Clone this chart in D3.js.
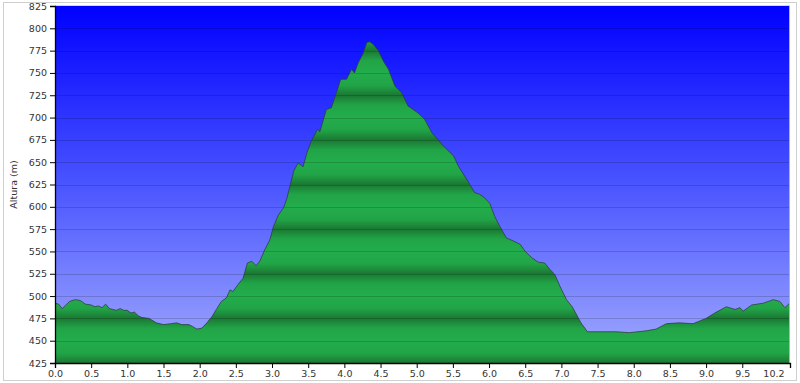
<!DOCTYPE html>
<html>
<head>
<meta charset="utf-8">
<script src="https://cdn.jsdelivr.net/npm/d3@7"></script>
<style>
    body { margin: 0; background: #ffffff; }
    svg { display: block; font-family: "DejaVu Sans", Verdana, sans-serif; }
</style>
</head>
<body>
<svg id="profile" width="800" height="383"></svg>
<script>
// distance (km) / altitude (m) read from the track profile
const distances = [
    0.00, 0.05, 0.10, 0.15, 0.20, 0.28, 0.35, 0.42, 0.50, 0.55, 0.60, 0.65, 0.70, 0.75,
    0.80, 0.85, 0.90, 0.95, 1.00, 1.05, 1.10, 1.15, 1.20, 1.30, 1.40, 1.50, 1.60, 1.68,
    1.75, 1.85, 1.90, 1.96, 2.03, 2.10, 2.17, 2.23, 2.30, 2.37, 2.42, 2.46, 2.53, 2.60,
    2.66, 2.72, 2.78, 2.83, 2.90, 2.97, 3.02, 3.09, 3.16, 3.20, 3.26, 3.30, 3.36, 3.43,
    3.48, 3.54, 3.63, 3.66, 3.69, 3.75, 3.82, 3.89, 3.95, 4.03, 4.10, 4.14, 4.19, 4.26,
    4.31, 4.35, 4.40, 4.47, 4.54, 4.61, 4.70, 4.79, 4.88, 5.02, 5.11, 5.21, 5.37, 5.51,
    5.58, 5.72, 5.80, 5.87, 5.94, 6.01, 6.08, 6.15, 6.24, 6.33, 6.43, 6.50, 6.59, 6.68,
    6.77, 6.84, 6.91, 6.98, 7.07, 7.15, 7.27, 7.36, 7.52, 7.75, 7.94, 8.17, 8.31, 8.45,
    8.63, 8.82, 9.00, 9.12, 9.28, 9.40, 9.47, 9.51, 9.63, 9.79, 9.93, 10.02, 10.09, 10.14,
    10.16
];
const altitudes = [
    492, 491, 486, 490, 494, 496, 495, 491, 490, 488, 489, 487, 491, 486,
    485, 484, 486, 484, 484, 481, 482, 478, 476, 475, 470, 468, 469, 470,
    468, 468, 466, 463, 464, 470, 477, 485, 494, 498, 507, 505, 513, 520,
    537, 539, 534, 539, 552, 563, 578, 591, 599, 608, 627, 640, 649, 645,
    660, 673, 687, 684, 692, 709, 711, 728, 743, 743, 754, 750, 761, 772,
    784, 785, 782, 775, 763, 754, 735, 728, 713, 705, 698, 683, 668, 657,
    645, 627, 616, 614, 610, 604, 589, 578, 565, 562, 558, 550, 543, 538,
    537, 530, 524, 511, 496, 488, 470, 460, 460, 460, 459, 461, 463, 469,
    470, 469, 475, 481, 488, 485, 487, 483, 490, 492, 496, 494, 487, 491,
    492
];

const xTicks = [0, 0.5, 1, 1.5, 2, 2.5, 3, 3.5, 4, 4.5, 5, 5.5, 6, 6.5, 7, 7.5, 8, 8.5, 9, 9.5, 10.16];
const xTickLabels = ["0.0", "0.5", "1.0", "1.5", "2.0", "2.5", "3.0", "3.5", "4.0", "4.5", "5.0",
    "5.5", "6.0", "6.5", "7.0", "7.5", "8.0", "8.5", "9.0", "9.5", "10.2"];
const yTicks = [425, 450, 475, 500, 525, 550, 575, 600, 625, 650, 675, 700, 725, 750, 775, 800, 825];
const yLabel = "Altura (m)";

const svg = d3.select("#profile");
const plot = { left: 55, right: 790, top: 6, bottom: 363 };

const x = d3.scaleLinear().domain([0, 10.16]).range([plot.left, plot.right]);
const y = d3.scaleLinear().domain([425, 825]).range([plot.bottom, plot.top]);

const points = distances.map(function(d, i) {
    return { km: d, alt: altitudes[i] };
});

// outer frame
svg.append("rect")
    .attr("x", 3.5)
    .attr("y", 2.5)
    .attr("width", 793)
    .attr("height", 378)
    .attr("fill", "#ffffff")
    .attr("stroke", "#cfcfcf");

const defs = svg.append("defs");

const skyGradient = defs.append("linearGradient")
    .attr("id", "sky")
    .attr("gradientUnits", "userSpaceOnUse")
    .attr("x1", 0).attr("x2", 0)
    .attr("y1", plot.top).attr("y2", plot.bottom);
skyGradient.append("stop").attr("offset", "0%").attr("stop-color", "#0000ff");
skyGradient.append("stop").attr("offset", "50%").attr("stop-color", "#4a55ff");
skyGradient.append("stop").attr("offset", "100%").attr("stop-color", "#a2abfd");

// green bands: dark on the 475/525/... lines, bright on the 450/500/... lines
const groundGradient = defs.append("linearGradient")
    .attr("id", "ground")
    .attr("gradientUnits", "userSpaceOnUse")
    .attr("x1", 0).attr("x2", 0)
    .attr("y1", plot.top).attr("y2", plot.bottom);

function addGroundStop(v, color) {
    groundGradient.append("stop")
        .attr("offset", (y(v) - plot.top) / (plot.bottom - plot.top))
        .attr("stop-color", color);
}

// stops must go top -> bottom, so walk the ticks from high to low
yTicks.slice().reverse().forEach(function(v, i) {
    const dark = (v - 25) % 50 === 0;
    if (dark) {
        if (i > 0) addGroundStop(v + 11, "#21a447");
        addGroundStop(v, "#1b7833");
        addGroundStop(v - 11, "#21a447");
    } else {
        addGroundStop(v, "#23ad4c");
    }
});

svg.append("clipPath")
    .attr("id", "plot-clip")
    .append("rect")
    .attr("x", plot.left)
    .attr("y", plot.top)
    .attr("width", plot.right - plot.left)
    .attr("height", plot.bottom - plot.top);

const plotLayer = svg.append("g").attr("clip-path", "url(#plot-clip)");

plotLayer.append("rect")
    .attr("x", plot.left)
    .attr("y", plot.top)
    .attr("width", plot.right - plot.left)
    .attr("height", plot.bottom - plot.top)
    .attr("fill", "url(#sky)");

const area = d3.area()
    .x(function(d) { return x(d.km); })
    .y0(plot.bottom)
    .y1(function(d) { return y(d.alt); });

const line = d3.line()
    .x(function(d) { return x(d.km); })
    .y(function(d) { return y(d.alt); });

plotLayer.append("path")
    .datum(points)
    .attr("d", area)
    .attr("fill", "url(#ground)");

// grid lines over everything
plotLayer.selectAll(".grid")
    .data(yTicks.slice(1, -1))
    .enter()
    .append("line")
    .attr("class", "grid")
    .attr("x1", plot.left)
    .attr("x2", plot.right)
    .attr("y1", function(d) { return Math.round(y(d)) + 0.5; })
    .attr("y2", function(d) { return Math.round(y(d)) + 0.5; })
    .attr("stroke", "#000000")
    .attr("stroke-opacity", 0.16);

plotLayer.append("path")
    .datum(points)
    .attr("d", line)
    .attr("fill", "none")
    .attr("stroke", "#2e3a3a")
    .attr("stroke-opacity", 0.75)
    .attr("stroke-width", 1);

// thin light line at the end of the track
svg.append("line")
    .attr("x1", plot.right - 0.5)
    .attr("x2", plot.right - 0.5)
    .attr("y1", plot.top)
    .attr("y2", plot.bottom)
    .attr("stroke", "#7fd49a");

svg.append("line")
    .attr("x1", plot.left)
    .attr("x2", plot.right)
    .attr("y1", plot.top - 0.5)
    .attr("y2", plot.top - 0.5)
    .attr("stroke", "#d8d8d8");

// axes
const yAxis = d3.axisLeft(y)
    .tickValues(yTicks)
    .tickSize(5)
    .tickPadding(3)
    .tickFormat(d3.format("d"));

const xAxis = d3.axisBottom(x)
    .tickValues(xTicks)
    .tickSize(5)
    .tickPadding(2)
    .tickFormat(function(d, i) { return xTickLabels[i]; });

const yAxisGroup = svg.append("g")
    .attr("transform", "translate(" + plot.left + ",0)")
    .call(yAxis);

const xAxisGroup = svg.append("g")
    .attr("transform", "translate(0," + plot.bottom + ")")
    .call(xAxis);

[yAxisGroup, xAxisGroup].forEach(function(g) {
    g.select(".domain").attr("stroke", "#000000").attr("stroke-width", 1.3);
    g.selectAll(".tick line").attr("stroke", "#000000");
    g.selectAll(".tick text")
        .attr("fill", "#333333")
        .style("font-size", "9.5px")
        .style("font-family", "\"DejaVu Sans\", Verdana, sans-serif");
});

// last label pulled inside the frame
xAxisGroup.selectAll(".tick text")
    .filter(function(d) { return d === xTicks[xTicks.length - 1]; })
    .attr("text-anchor", "end")
    .attr("dx", "-6");

svg.append("text")
    .attr("transform", "translate(17," + ((plot.top + plot.bottom) / 2) + ") rotate(-90)")
    .attr("text-anchor", "middle")
    .attr("fill", "#333333")
    .style("font-size", "9.5px")
    .text(yLabel);
</script>
</body>
</html>
